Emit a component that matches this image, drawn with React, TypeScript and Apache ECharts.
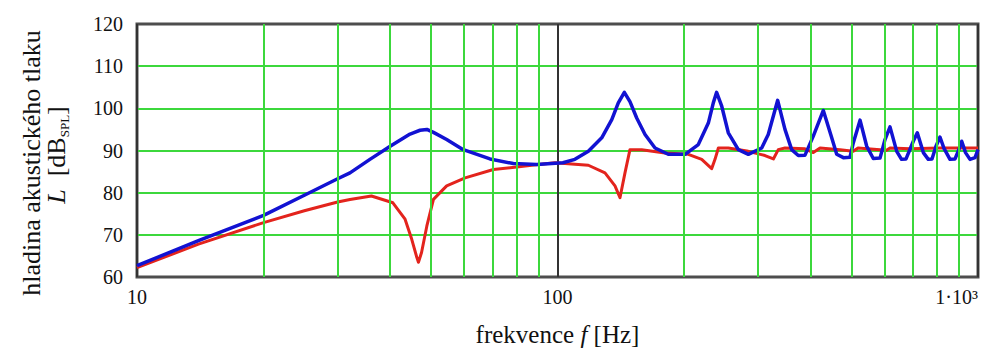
import { useEffect, useRef } from "react";
import * as echarts from "echarts";

// Frequency response
const blueFreq = [
  10, 14, 20, 25, 30, 32.1, 35.8, 40.0, 44.6, 45.4, 47.1, 48.9, 50.7, 54.5, 59.7, 69.1, 78.5, 89.2, 103,
  110, 118.4, 127.4, 134.6, 139.5, 144.2, 148.7, 154.3, 161.5, 170.6, 183.4, 201.1,
  216.2, 228.4, 234.7, 239.0, 245.8, 254.8, 269.2, 284.3, 305.9, 317.1, 333.9,
  347.5, 360.5, 373.8, 387.8, 405.8, 428.7, 448.9, 461.3, 478.4, 496.1, 505.1, 524.2,
  543.7, 563.6, 584.8, 601.0, 617.6, 640.8, 658.0, 674.3, 701.7, 717.2, 741.3, 761.8,
  777.3, 794.5, 812.0, 830.1, 857.9, 881.8, 898.8, 914.7, 934, 957.2, 983.8, 1000,
];
const blueLevel = [
  62.7, 68.6, 74.6, 79.4, 83.3, 84.7, 87.9, 91.0, 93.9, 94.2, 94.8, 95.0, 94.3, 92.6, 90.2, 88.0, 86.9, 86.7, 87.1,
  87.9, 89.8, 93.0, 97.3, 101.3, 103.8, 101.6, 97.7, 93.8, 90.6, 89.1, 89.1,
  91.4, 96.5, 101.3, 103.8, 100.5, 94.2, 90.2, 89.1, 90.6, 93.8, 101.9,
  95.0, 90.2, 88.8, 88.9, 93.4, 99.5, 93.0, 89.1, 88.3, 88.4, 91.8, 97.2,
  91.0, 88.1, 88.2, 92.6, 95.6, 89.8, 87.9, 88.0, 92.2, 94.2, 89.5, 87.9,
  88.0, 91.0, 93.2, 90.5, 87.9, 88.0, 90.0, 92.2, 89.5, 87.9, 88.3, 90.2,
];

const redFreq = [
  10, 14, 20, 25, 30, 32.1, 36.1, 40.6, 43.4, 45.0, 46.3, 46.7, 47.5, 48.9, 50.7, 54.5, 60.3,
  70.4, 80.0, 86.8, 98.6, 118.4, 129.7, 137.0, 140.8, 144.7, 148.7, 158.6, 180.1, 204.7,
  220.3, 232.6, 236.9, 241.3, 254.8, 284.3, 311.5, 326.1, 335.0, 347.5, 387.8, 405.8,
  421.1, 469.7, 505.1, 518.4, 584.8, 604.3, 617.6, 689.2, 812, 1000,
];
const redLevel = [
  62.2, 67.8, 72.9, 75.7, 77.8, 78.4, 79.2, 77.6, 73.7, 69.0, 64.6, 63.5, 65.8, 72.1, 78.4, 81.6, 83.5,
  85.5, 86.1, 86.5, 87.1, 86.5, 84.7, 81.6, 78.8, 84.7, 90.2, 90.2, 89.4, 89.1,
  87.9, 85.7, 87.9, 90.6, 90.6, 89.8, 88.8, 88.0, 90.2, 90.6, 90.4, 89.5,
  90.6, 90.2, 89.8, 90.6, 90.2, 90.0, 90.6, 90.4, 90.6, 90.6,
];

const minorGridFreqs = [20, 30, 40, 50, 60, 70, 80, 90, 200, 300, 400, 500, 600, 700, 800, 900];
const yMin = 60;
const yMax = 120;
const yStep = 10;
const xMin = 10;
const xMax = 1000;

const SERIF = '"Liberation Serif", "Times New Roman", serif';

export default function App() {
  const ref = useRef<HTMLDivElement>(null);
  useEffect(() => {
    document.body.style.margin = "0";
    const chart = echarts.init(ref.current!, null, { renderer: "svg" });
    const blue = blueFreq.map((f, i) => [f, blueLevel[i]]);
    const red = redFreq.map((f, i) => [f, redLevel[i]]);
    chart.setOption({
      animation: false,
      backgroundColor: "#ffffff",
      grid: {
        left: 137,
        top: 24,
        right: 14,
        bottom: 74,
        show: true,
        borderColor: "#4d4d4d",
        borderWidth: 3,
        backgroundColor: "#ffffff",
      },
      xAxis: {
        type: "log",
        logBase: 10,
        min: xMin,
        max: xMax,
        name: "frekvence {i|f} [Hz]",
        nameLocation: "middle",
        nameGap: 45,
        nameTextStyle: {
          fontFamily: SERIF,
          fontSize: 25,
          color: "#111",
          rich: {
            i: { fontFamily: SERIF, fontSize: 25, fontStyle: "italic", color: "#111" },
          },
        },
        axisLine: { show: false },
        axisTick: { show: false },
        axisLabel: {
          fontFamily: SERIF,
          fontSize: 20,
          color: "#111",
          margin: 10,
          alignMaxLabel: "right",
          formatter: (v: number) => {
            const r = Math.round(v);
            return r === 1000 ? "1·10³" : String(r);
          },
        },
        splitLine: { show: true, lineStyle: { color: "#333333", width: 2 } },
      },
      yAxis: {
        type: "value",
        min: yMin,
        max: yMax,
        interval: yStep,
        axisLine: { show: false },
        axisTick: { show: false },
        axisLabel: { fontFamily: SERIF, fontSize: 20, color: "#111", margin: 14 },
        splitLine: {
          show: true,
          showMinLine: false,
          showMaxLine: false,
          lineStyle: { color: "#3cd83c", width: 2 },
        },
      },
      graphic: [
        {
          type: "text",
          x: 31,
          y: 163,
          rotation: Math.PI / 2,
          style: {
            text: "hladina akustického tlaku",
            fontFamily: SERIF,
            fontSize: 26,
            fill: "#111",
            align: "center",
            verticalAlign: "middle",
          },
        },
        {
          type: "text",
          x: 56,
          y: 155,
          rotation: Math.PI / 2,
          style: {
            text: "{i|L}  [dB{s|SPL}]",
            fontFamily: SERIF,
            fontSize: 26,
            fill: "#111",
            align: "center",
            verticalAlign: "middle",
            rich: {
              i: { fontFamily: SERIF, fontSize: 26, fontStyle: "italic", fill: "#111", lineHeight: 30 },
              s: { fontFamily: SERIF, fontSize: 13, fill: "#111", verticalAlign: "bottom", lineHeight: 30 },
            },
          },
        },
      ],
      series: [
        {
          type: "line",
          data: [],
          silent: true,
          z: 1,
          markLine: {
            silent: true,
            symbol: "none",
            label: { show: false },
            lineStyle: { color: "#3cd83c", width: 2, type: "solid" },
            emphasis: { disabled: true },
            data: minorGridFreqs.map((v) => ({ xAxis: v })),
          },
        },
        {
          name: "red",
          type: "line",
          data: red,
          showSymbol: false,
          z: 3,
          lineStyle: { color: "#e3241d", width: 3, join: "round" },
          itemStyle: { color: "#e3241d" },
        },
        {
          name: "blue",
          type: "line",
          data: blue,
          showSymbol: false,
          z: 4,
          lineStyle: { color: "#1212d2", width: 3.5, join: "round" },
          itemStyle: { color: "#1212d2" },
        },
      ],
    });
    return () => chart.dispose();
  }, []);
  return <div ref={ref} style={{ width: 992, height: 352 }} />;
}
